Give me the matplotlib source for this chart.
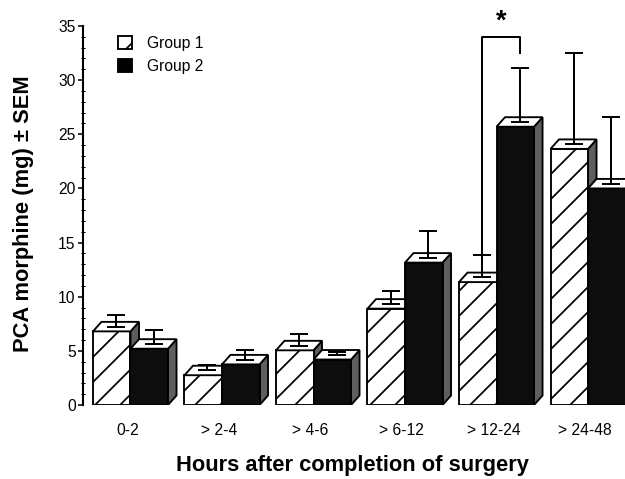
import matplotlib
matplotlib.use("Agg")
import matplotlib.pyplot as plt
from matplotlib.patches import Polygon, Rectangle, Patch
import numpy as np

# ---------------- data ----------------
categories = ["0-2", "> 2-4", "> 4-6", "> 6-12", "> 12-24", "> 24-48"]
group1 = [6.8, 2.75, 5.05, 8.9, 11.35, 23.65]
group1_sem = [1.1, 0.55, 1.05, 1.15, 2.1, 8.4]
group2 = [5.2, 3.75, 4.2, 13.15, 25.7, 20.0]
group2_sem = [1.3, 0.85, 0.3, 2.5, 5.0, 6.2]
legend_labels = ["Group 1", "Group 2"]
yticks = [0, 5, 10, 15, 20, 25, 30, 35]
sig_category = 4
sig_text = "*"

# ---------------- style ----------------
DPI = 75
W, H = 626, 479
plt.rcParams["font.family"] = ["Liberation Sans", "DejaVu Sans"]
plt.rcParams["hatch.linewidth"] = 1.7

fig = plt.figure(figsize=(W / DPI, H / DPI), dpi=DPI, facecolor="white")
ax = fig.add_axes([83 / W, 74 / H, 543 / W, 379 / H])

bw = 0.41          # bar width (category units)
dx, dy = 0.093, 0.877   # pseudo-3D depth offsets
side_col = "#5e5e5e"
lw = 1.8

x = np.arange(len(categories))


def bar3d(xl, h, face, hatch, z):
    side = Polygon([(xl + bw, 0), (xl + bw + dx, dy), (xl + bw + dx, h + dy), (xl + bw, h)],
                   closed=True, facecolor=side_col, edgecolor="black", lw=lw, zorder=z)
    front = Rectangle((xl, 0), bw, h, facecolor=face, edgecolor="black", lw=lw,
                      hatch=hatch, zorder=z + 0.1)
    top = Polygon([(xl, h), (xl + dx, h + dy), (xl + bw + dx, h + dy), (xl + bw, h)],
                  closed=True, facecolor="white", edgecolor="black", lw=lw, zorder=z + 0.2)
    for p in (side, front, top):
        ax.add_patch(p)


for i in range(len(categories)):
    bar3d(x[i] - bw, group1[i], "white", "/", 2 + i)
    bar3d(x[i], group2[i], "#0d0d0d", None, 2.5 + i)

# error bars from the centre of the top face
ex1 = x - bw / 2 + dx / 2
ex2 = x + bw / 2 + dx / 2
ey1 = np.array(group1) + dy / 2
ey2 = np.array(group2) + dy / 2
for ex, ey, sem in ((ex1, ey1, group1_sem), (ex2, ey2, group2_sem)):
    ax.errorbar(ex, ey, yerr=[np.zeros(len(sem)), sem], fmt="none", ecolor="black",
                elinewidth=1.9, capsize=9, capthick=1.9, zorder=20, clip_on=False)

# significance bracket
k = sig_category
yl = ey1[k] + group1_sem[k]
ytop = 34.0
yr = 32.5
ax.plot([ex1[k], ex1[k], ex2[k], ex2[k]], [yl, ytop, ytop, yr], color="black",
        lw=1.9, zorder=21, clip_on=False)
ax.text((ex1[k] + ex2[k]) / 2, 35.4, sig_text, ha="center", va="center",
        fontsize=26, fontweight="bold", clip_on=False)

# axes
ax.set_xlim(-0.519, 5.415)
ax.set_ylim(0, 35)
for s in ("top", "right", "bottom"):
    ax.spines[s].set_visible(False)
ax.spines["left"].set_linewidth(2)
ax.set_yticks(yticks)
ax.set_yticklabels([str(t) for t in yticks], fontsize=15)
ax.set_yticks(np.arange(0, 36, 1), minor=True)
ax.tick_params(axis="y", which="major", length=5, width=1.5, pad=2)
ax.tick_params(axis="y", which="minor", length=3, width=1.0, direction="inout")
ax.set_xticks(x - 0.035)
ax.set_xticklabels(categories, fontsize=15)
ax.tick_params(axis="x", length=0, pad=17)

fig.text(24 / W, 1 - 213.5 / H, "PCA morphine (mg) \u00b1 SEM", rotation=90,
         ha="center", va="center", fontsize=21, fontweight="bold")
fig.text(352 / W, 1 - 466 / H, "Hours after completion of surgery",
         ha="center", va="center", fontsize=21, fontweight="bold")

handles = [Patch(facecolor="white", edgecolor="black", hatch="/", lw=1.8),
           Patch(facecolor="black", edgecolor="black", lw=1.8)]
ax.legend(handles, legend_labels, loc="upper left", bbox_to_anchor=(0.0645, 0.974),
          frameon=False, fontsize=15, handlelength=0.875, handleheight=0.875,
          handletextpad=0.95, labelspacing=0.5, borderpad=0, borderaxespad=0)

fig.savefig("out.png", dpi=DPI, facecolor="white")
